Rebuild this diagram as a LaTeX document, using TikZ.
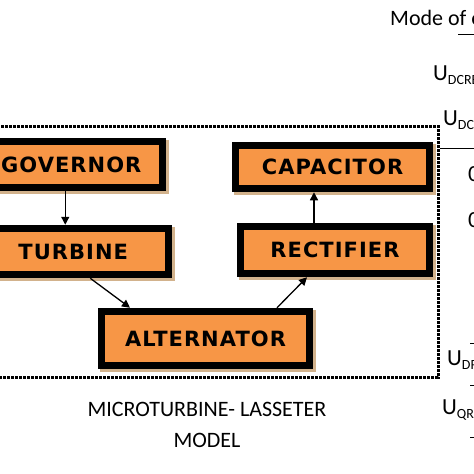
\documentclass[tikz,border=0pt]{standalone}
\usepackage{fontspec}
\setmainfont{Carlito}
\newfontfamily\boxfont[LetterSpace=5]{DejaVu Sans}
\usetikzlibrary{arrows.meta}
\definecolor{boxorange}{RGB}{247,150,70}
\definecolor{shadowtan}{RGB}{210,178,140}
\newcommand{\usub}[2]{#1\raisebox{-4pt}{\fontsize{14}{14}\selectfont #2}}

\begin{document}
\begin{tikzpicture}[x=1pt,y=-1pt,
  blk/.style={draw=black, line width=7.5pt, fill=boxorange, inner sep=0pt,
    font=\boxfont\bfseries\fontsize{21}{21}\selectfont,
    preaction={draw=shadowtan, fill=shadowtan, line width=7.5pt,
      transform canvas={shift={(2.5pt,-2.5pt)}}}},
  arr/.style={line width=1.3pt, -{Triangle[length=8pt,width=8pt]}},
  frame/.style={line width=3pt, dash pattern=on 3pt off 1pt},
  lbl/.style={font=\fontsize{23}{23}\selectfont, anchor=west, inner sep=0pt}]
\useasboundingbox (0,0) rectangle (474,474);
\clip (0,0) rectangle (474,474);
% microturbine model
\draw[frame] (-10,126) rectangle (438,377);
\node[blk, minimum width=182.5, minimum height=46] (gov) at (71.25,164.5) {GOVERNOR};
\node[blk, minimum width=190.5, minimum height=46] (tur) at (73.25,251.5) {TURBINE};
\node[blk, minimum width=208, minimum height=54] (alt) at (205.5,338.5) {ALTERNATOR};
\node[blk, minimum width=189, minimum height=47] (rec) at (335,250) {RECTIFIER};
\node[blk, minimum width=194, minimum height=43] (cap) at (332.5,167) {CAPACITOR};
\draw[arr] ([xshift=-6pt]gov.south) -- ([xshift=-8pt]tur.north);
\draw[arr] ([xshift=17pt]tur.south) -- ([xshift=-75.5pt]alt.north);
\draw[arr] ([xshift=71.5pt]alt.north) -- ([xshift=-28pt]rec.south);
\draw[arr] ([xshift=-21pt]rec.north) -- ([xshift=-18.5pt]cap.south);
\node[font=\fontsize{22}{22}\selectfont] (title1) at (207,409) {MICROTURBINE- LASSETER};
\node[font=\fontsize{22}{22}\selectfont] (title2) at (207,440) {MODEL};
% mode table (cut off)
\node[lbl, font=\fontsize{22}{22}\selectfont] (mode) at (390,20) {Mode of operation};
\draw[line width=1pt] (458,34) -- (476,34);
\node[lbl] (udcref) at (433,75) {\usub{U}{DCREF}};
\node[lbl] (udc) at (443,120) {\usub{U}{DC}};
\draw[line width=1pt] (440,148) -- (476,148);
\node[lbl] (zero1) at (468,174) {0};
\node[lbl] (zero2) at (468,220) {0};
\draw[line width=0.6pt] (470,343) -- (476,343);
\node[lbl] (udref) at (447,360) {\usub{U}{DREF}};
\draw[line width=0.6pt] (470,385) -- (476,385);
\node[lbl] (uqref) at (442,410) {\usub{U}{QREF}};
\draw[line width=0.6pt] (470,437) -- (476,437);
\end{tikzpicture}
\end{document}
